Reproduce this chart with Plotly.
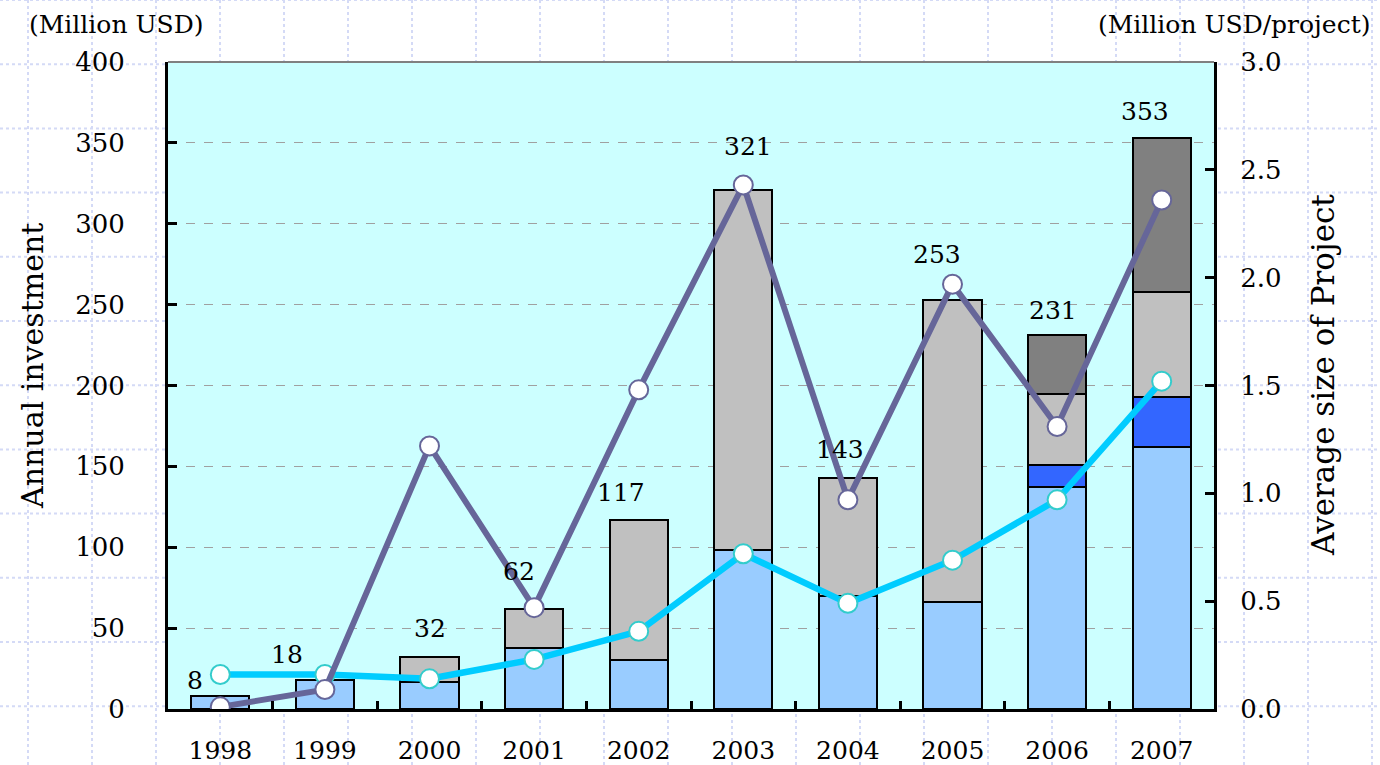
import plotly.graph_objects as go

years = ["1998", "1999", "2000", "2001", "2002", "2003", "2004", "2005", "2006", "2007"]
light_blue = [8, 18, 17, 38, 30, 98, 70, 66, 137, 162]
dark_blue = [None, None, None, None, None, None, None, None, 14, 31]
gray = [None, None, 15, 24, 87, 223, 73, 187, 44, 65]
dark_gray = [None, None, None, None, None, None, None, None, 36, 95]
totals = [8, 18, 32, 62, 117, 321, 143, 253, 231, 353]
avg_size_all = [0.01, 0.09, 1.22, 0.47, 1.48, 2.43, 0.97, 1.97, 1.31, 2.36]
avg_size_cyan = [0.16, 0.16, 0.14, 0.23, 0.36, 0.72, 0.49, 0.69, 0.97, 1.52]

# label offsets (px) for the total labels
label_dx = [-25, -38, 0, -15, -18, 5, -8, -16, -4, -17]
label_dy = [16, 25, 29, 37, 27, 43, 28, 45, 25, 27]

FONT = "DejaVu Serif"

fig = go.Figure()
bar_line = dict(color="black", width=2)
for vals, col in [(light_blue, "#99CCFF"), (dark_blue, "#3366FF"), (gray, "#C0C0C0"), (dark_gray, "#808080")]:
    fig.add_trace(go.Bar(x=years, y=vals, marker=dict(color=col, line=bar_line), showlegend=False))

fig.add_trace(go.Scatter(x=years, y=avg_size_cyan, yaxis="y2", mode="lines+markers",
                         line=dict(color="#00CCFF", width=6.5),
                         marker=dict(size=19, color="white", line=dict(color="#33CCCC", width=2)),
                         showlegend=False))
fig.add_trace(go.Scatter(x=years, y=avg_size_all, yaxis="y2", mode="lines+markers",
                         line=dict(color="#666699", width=6),
                         marker=dict(size=19, color="white", line=dict(color="#666699", width=2)),
                         showlegend=False))

annotations = []
for i, t in enumerate(totals):
    annotations.append(dict(x=i, y=t, xref="x", yref="y", text=str(t), showarrow=False,
                            xshift=label_dx[i], yshift=label_dy[i], yanchor="middle",
                            font=dict(family=FONT, size=25, color="black")))

L, R, T, B = 168, 1214, 62, 709
W, H = 1380, 765
def px(x):
    return (x - L) / (R - L)
def py(y):
    return (B - y) / (B - T)

annotations += [
    dict(x=px(27), y=py(25), xref="paper", yref="paper", text="(Million USD)", showarrow=False,
         xanchor="left", yanchor="middle", font=dict(family=FONT, size=25, color="black")),
    dict(x=px(1372), y=py(25), xref="paper", yref="paper", text="(Million USD/project)", showarrow=False,
         xanchor="right", yanchor="middle", font=dict(family=FONT, size=25, color="black")),
    dict(x=px(32), y=py(366), xref="paper", yref="paper", text="Annual investment", showarrow=False,
         textangle=-90, xanchor="center", yanchor="middle", font=dict(family=FONT, size=30, color="black")),
    dict(x=px(1323), y=py(375), xref="paper", yref="paper", text="Average size of Project", showarrow=False,
         textangle=-90, xanchor="center", yanchor="middle", font=dict(family=FONT, size=31, color="black")),
]

shapes = []
# spreadsheet grid in background
for k in range(0, 22):
    x = 28 + 64 * k
    shapes.append(dict(type="line", xref="paper", yref="paper", x0=px(x), x1=px(x), y0=py(0), y1=py(765),
                       line=dict(color="#D4DAF6", width=2, dash="dot"), layer="below"))
for k in range(0, 13):
    y = 0 + 64.2 * k
    shapes.append(dict(type="line", xref="paper", yref="paper", x0=px(0), x1=px(1380), y0=py(y), y1=py(y),
                       line=dict(color="#D4DAF6", width=2, dash="dot"), layer="below"))
shapes.append(dict(type="rect", xref="paper", yref="paper", x0=0, x1=1, y0=0, y1=1,
                   fillcolor="#CCFFFF", line=dict(width=0), layer="below"))
shapes.append(dict(type="line", xref="paper", yref="paper", x0=0, x1=1, y0=1, y1=1,
                   line=dict(color="#808080", width=2), layer="above"))

fig.update_layout(
    width=W, height=H,
    margin=dict(l=L, r=W - R, t=T, b=H - B, pad=0, autoexpand=False),
    paper_bgcolor="white", plot_bgcolor="rgba(0,0,0,0)",
    barmode="stack", bargap=0.445,
    font=dict(family=FONT, size=26, color="black"),
    showlegend=False,
    annotations=annotations, shapes=shapes,
    xaxis=dict(type="category", range=[-0.5, 9.5], showline=True, linecolor="black", linewidth=3,
               ticks="inside", tickson="boundaries", ticklen=8, tickwidth=3, tickcolor="black",
               tickfont=dict(family=FONT, size=25), ticklabelstandoff=17, showgrid=False,
               automargin=False),
    yaxis=dict(range=[0, 400], dtick=50, showline=True, linecolor="black", linewidth=3,
               ticks="inside", ticklen=9, tickwidth=3, tickcolor="black",
               tickfont=dict(family=FONT, size=26), ticklabelstandoff=35,
               showgrid=True, gridcolor="#A0A0A0", griddash="dash", gridwidth=1, zeroline=False,
               automargin=False),
    yaxis2=dict(range=[0, 3], dtick=0.5, tickformat=".1f", overlaying="y", side="right",
                showline=True, linecolor="black", linewidth=3,
                ticks="inside", ticklen=9, tickwidth=3, tickcolor="black",
                tickfont=dict(family=FONT, size=26), ticklabelstandoff=18,
                showgrid=False, zeroline=False, automargin=False),
)

fig.write_html("out.html", config={"displayModeBar": False},
               post_script="document.body.style.margin='0';")
